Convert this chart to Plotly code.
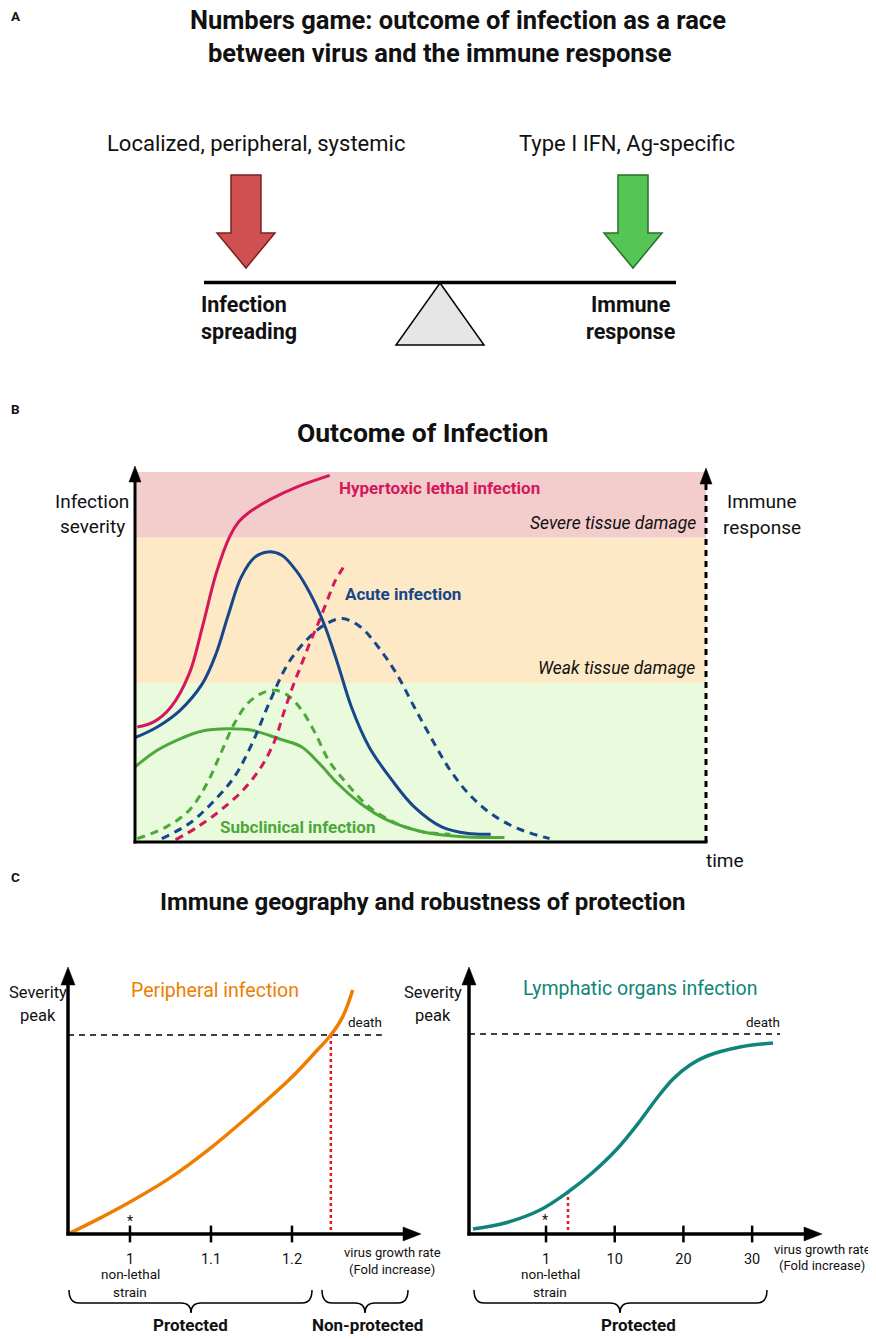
import plotly.graph_objects as go

# page is offset by the default 8px body margin; figure fills the rest
OFF = 8
PW, PH = 876, 1339
W, H = PW - OFF, PH - OFF
FONT = "Roboto"

# ---------------- Panel B data (time 0-100, severity 0-100) ----------------
band_edges = [0, 43.0, 82.3, 100]
band_colors = ["#eafadc", "#fde9c6", "#f3cccc"]
band_labels = ["Weak tissue damage", "Severe tissue damage"]

hyper_t = [0.4, 3.2, 6.3, 9.5, 11.8, 14.2, 16.6, 18.2, 19.9, 23.7, 28.4, 34.1]
hyper_s = [31.1, 32.4, 36.5, 45.5, 58.1, 72.5, 82.6, 86.6, 89.0, 92.6, 96.0, 99.1]

acute_t = [0, 3.9, 7.9, 11.8, 14.2, 16.4, 18.6, 21.0, 23.3, 25.7, 28.2, 30.7, 33.1,
           35.5, 37.9, 41.0, 45.0, 48.9, 53.7, 58.4, 62.3]
acute_s = [28.2, 31.1, 35.6, 42.8, 50.9, 61.7, 71.6, 77.0, 78.4, 77.5, 73.4, 67.1, 59.0,
           48.2, 36.5, 25.7, 16.7, 9.5, 4.1, 2.3, 2.1]

subc_t = [0, 3.9, 7.9, 11.8, 16.2, 20.5, 25.2, 29.2, 32.3, 35.5, 39.5, 44.2, 50.5, 56.8, 64.7]
subc_s = [20.3, 24.8, 27.9, 30.0, 30.6, 30.2, 27.9, 25.7, 21.2, 15.8, 10.4, 5.9, 2.7, 1.5, 1.2]

subc_imm_t = [0.4, 5.5, 9.5, 12.6, 15.0, 17.4, 19.7, 22.1, 24.5, 26.8, 29.2, 31.6, 33.9,
              37.1, 41.0, 45.8, 50.5, 55.2]
subc_imm_s = [0.9, 4.1, 8.6, 15.8, 23.9, 32.0, 37.4, 40.1, 41.0, 39.6, 35.6, 29.3, 22.1,
              15.8, 9.5, 5.0, 2.7, 2.1]

acute_imm_t = [4.7, 9.5, 13.4, 17.4, 20.5, 23.7, 26.8, 30.0, 33.1, 36.3, 39.5, 42.6, 45.8,
               48.9, 52.1, 55.2, 58.4, 62.3, 67.1, 72.6]
acute_imm_s = [0.9, 5.0, 10.4, 17.6, 26.6, 38.3, 48.2, 54.5, 58.6, 60.4, 58.1, 52.7, 45.5,
               36.5, 27.5, 19.4, 13.1, 7.7, 3.6, 0.9]

hyper_imm_t = [7.1, 11.0, 15.0, 18.9, 22.1, 24.5, 26.0, 27.6, 29.2, 30.8, 32.3, 33.9, 35.1, 36.9]
hyper_imm_s = [0.6, 4.1, 8.6, 14.0, 20.3, 27.5, 34.7, 41.9, 48.2, 54.5, 59.9, 66.2, 70.7, 75.2]

# ---------------- Panel C data ----------------
periph_x = [0.926, 0.963, 1.000, 1.049, 1.101, 1.148, 1.200, 1.228, 1.248, 1.263, 1.275]
periph_y = [0.005, 0.080, 0.161, 0.281, 0.437, 0.598, 0.789, 0.910, 1.000, 1.095, 1.226]
periph_ticks = [1, 1.1, 1.2]
periph_ticktext = ["1", "1.1", "1.2"]
periph_threshold = 1.248

lymph_x = [-0.063, 0.403, 0.913, 1.320, 1.670, 2.033, 2.368, 2.616, 2.849, 3.096, 3.344, 3.824, 4.304]
lymph_y = [0.025, 0.055, 0.120, 0.210, 0.305, 0.425, 0.565, 0.680, 0.775, 0.845, 0.890, 0.935, 0.955]
lymph_ticks = [1, 2, 3, 4]
lymph_ticktext = ["1", "10", "20", "30"]
lymph_threshold = 1.320
lymph_threshold_y = 0.21

death_level = 1.0

# ---------------- colours ----------------
C_HYPER = "#d4185a"
C_ACUTE = "#17478a"
C_SUBC = "#4ca83a"
C_ORANGE = "#ef7d00"
C_TEAL = "#0f857a"


def X(p):
    return (p - OFF) / W


def Y(p):
    return 1 - (p - OFF) / H


def path(points):
    return "M " + " L ".join(f"{X(a):.5f},{Y(b):.5f}" for a, b in points) + " Z"


fig = go.Figure()

# ---------- Panel B traces ----------
def bline(t, s, color, dash=None):
    fig.add_trace(go.Scatter(
        x=t, y=s, mode="lines", xaxis="x", yaxis="y",
        line=dict(color=color, width=3, shape="spline", smoothing=1.0,
                  dash=dash if dash else "solid"),
        hoverinfo="skip", showlegend=False))

DASH = "8px,6px"
bline(subc_t, subc_s, C_SUBC)
bline(subc_imm_t, subc_imm_s, C_SUBC, DASH)
bline(acute_imm_t, acute_imm_s, C_ACUTE, DASH)
bline(hyper_imm_t, hyper_imm_s, C_HYPER, DASH)
bline(acute_t, acute_s, C_ACUTE)
bline(hyper_t, hyper_s, C_HYPER)

# ---------- Panel C traces ----------
fig.add_trace(go.Scatter(x=[0.9235, 1.311], y=[death_level, death_level], mode="lines",
                         xaxis="x2", yaxis="y2", line=dict(color="black", width=1.6, dash="6px,5px"),
                         hoverinfo="skip", showlegend=False))
fig.add_trace(go.Scatter(x=[periph_threshold, periph_threshold], y=[0.02, death_level], mode="lines",
                         xaxis="x2", yaxis="y2", line=dict(color="#e8141c", width=2.5, dash="dot"),
                         hoverinfo="skip", showlegend=False))
fig.add_trace(go.Scatter(x=periph_x, y=periph_y, mode="lines", xaxis="x2", yaxis="y2",
                         line=dict(color=C_ORANGE, width=3.5, shape="spline"),
                         hoverinfo="skip", showlegend=False))
fig.add_trace(go.Scatter(x=periph_ticks, y=[0] * len(periph_ticks), mode="markers",
                         xaxis="x2", yaxis="y2", cliponaxis=False,
                         marker=dict(symbol="line-ns", size=12, line=dict(color="black", width=2.5)),
                         hoverinfo="skip", showlegend=False))

fig.add_trace(go.Scatter(x=[-0.121, 4.406], y=[death_level, death_level], mode="lines",
                         xaxis="x3", yaxis="y3", line=dict(color="black", width=1.6, dash="6px,5px"),
                         hoverinfo="skip", showlegend=False))
fig.add_trace(go.Scatter(x=[lymph_threshold, lymph_threshold], y=[0.02, lymph_threshold_y], mode="lines",
                         xaxis="x3", yaxis="y3", line=dict(color="#e8141c", width=2.5, dash="dot"),
                         hoverinfo="skip", showlegend=False))
fig.add_trace(go.Scatter(x=lymph_x, y=lymph_y, mode="lines", xaxis="x3", yaxis="y3",
                         line=dict(color=C_TEAL, width=3.5, shape="spline"),
                         hoverinfo="skip", showlegend=False))
fig.add_trace(go.Scatter(x=lymph_ticks, y=[0] * len(lymph_ticks), mode="markers",
                         xaxis="x3", yaxis="y3", cliponaxis=False,
                         marker=dict(symbol="line-ns", size=12, line=dict(color="black", width=2.5)),
                         hoverinfo="skip", showlegend=False))

shapes = []
for i in range(3):
    shapes.append(dict(type="rect", xref="x", yref="y", x0=0, x1=100,
                       y0=band_edges[i], y1=band_edges[i + 1], fillcolor=band_colors[i],
                       line=dict(width=0), layer="below"))

# ---------- Panel A illustration ----------
def block_arrow(xc, fill, edge):
    pts = [(xc - 15, 175), (xc + 15, 175), (xc + 15, 233), (xc + 29, 233), (xc, 268),
           (xc - 29, 233), (xc - 15, 233)]
    shapes.append(dict(type="path", xref="paper", yref="paper", path=path(pts),
                       fillcolor=fill, line=dict(color=edge, width=1.5)))

block_arrow(246, "#cf5050", "#7a1f1f")
block_arrow(633, "#55c655", "#2a6e2a")
shapes.append(dict(type="path", xref="paper", yref="paper",
                   path=path([(440, 283), (484, 345), (396, 345)]),
                   fillcolor="#e6e6e6", line=dict(color="black", width=1.5)))
shapes.append(dict(type="line", xref="paper", yref="paper", x0=X(204), x1=X(676),
                   y0=Y(282.5), y1=Y(282.5), line=dict(color="black", width=3.5)))

# ---------- axes lines / arrows ----------
def line(x0, y0, x1, y1, w=3, dash="solid"):
    shapes.append(dict(type="line", xref="paper", yref="paper", x0=X(x0), y0=Y(y0),
                       x1=X(x1), y1=Y(y1), line=dict(color="black", width=w, dash=dash)))

def head(tip, direction, hw=7, hl=17):
    x, y = tip
    if direction == "up":
        pts = [(x, y), (x + hw, y + hl), (x - hw, y + hl)]
    else:
        pts = [(x, y), (x - hl, y - hw), (x - hl, y + hw)]
    shapes.append(dict(type="path", xref="paper", yref="paper", path=path(pts),
                       fillcolor="black", line=dict(color="black", width=0.5)))

# Panel B
line(135, 843.5, 135, 480, 3)
head((135, 466), "up", 6, 16)
line(133.5, 842, 707.5, 842, 3)
line(706, 842, 706, 484, 3, "6px,5px")
head((706, 468), "up", 6, 16)

# Panel C left
line(68, 1235.5, 68, 983, 3.5)
head((68, 967), "up", 7, 18)
line(66.5, 1234, 405, 1234, 3.5)
head((421, 1234), "right", 7, 18)
# Panel C right
line(469, 1235.5, 469, 983, 3.5)
head((469, 967), "up", 7, 18)
line(467.5, 1234, 806, 1234, 3.5)
head((822, 1234), "right", 7, 18)

# braces
def brace(x1, x2, xc, y0=1290, ym=1303, yt=1313, r=10):
    pts = [
        f"M {X(x1):.5f},{Y(y0):.5f}",
        f"Q {X(x1):.5f},{Y(ym):.5f} {X(x1 + r):.5f},{Y(ym):.5f}",
        f"L {X(xc - r):.5f},{Y(ym):.5f}",
        f"Q {X(xc):.5f},{Y(ym):.5f} {X(xc):.5f},{Y(yt):.5f}",
        f"Q {X(xc):.5f},{Y(ym):.5f} {X(xc + r):.5f},{Y(ym):.5f}",
        f"L {X(x2 - r):.5f},{Y(ym):.5f}",
        f"Q {X(x2):.5f},{Y(ym):.5f} {X(x2):.5f},{Y(y0):.5f}",
    ]
    shapes.append(dict(type="path", xref="paper", yref="paper", path=" ".join(pts),
                       line=dict(color="black", width=1.5)))

brace(69, 312, 191)
brace(322, 408, 365)
brace(474, 767, 620)

# ---------- text ----------
ann = []
def T(x, y, text, size, color="#111111", bold=False, italic=False, anchor="center"):
    t = text
    if bold:
        t = f"<b>{t}</b>"
    if italic:
        t = f"<i>{t}</i>"
    ann.append(dict(x=X(x), y=Y(y), xref="paper", yref="paper", text=t, showarrow=False,
                    xanchor=anchor, yanchor="middle",
                    font=dict(family=FONT, size=size, color=color)))

T(9, 16, "A", 13.5, bold=True, anchor="left")
T(458, 20, "Numbers game: outcome of infection as a race", 25.5, bold=True)
T(440, 53, "between virus and the immune response", 25.5, bold=True)
T(256, 143, "Localized, peripheral, systemic", 22)
T(627, 143, "Type I IFN, Ag-specific", 22)
T(199, 304, "Infection", 21.5, bold=True, anchor="left")
T(199, 331, "spreading", 21.5, bold=True, anchor="left")
T(631, 304, "Immune", 21.5, bold=True)
T(631, 331, "response", 21.5, bold=True)

T(9, 409, "B", 13.5, bold=True, anchor="left")
T(422, 432, "Outcome of Infection", 26.5, bold=True)
T(92, 502, "Infection", 19)
T(92, 526, "severity", 19)
T(762, 502, "Immune", 19)
T(762, 527, "response", 19)
T(725, 860, "time", 19)
T(337, 488, "Hypertoxic lethal infection", 17, C_HYPER, bold=True, anchor="left")
T(343, 594, "Acute infection", 17, C_ACUTE, bold=True, anchor="left")
T(218, 827, "Subclinical infection", 17, C_SUBC, bold=True, anchor="left")
T(698, 523, band_labels[1], 17.5, italic=True, anchor="right")
T(697, 668, band_labels[0], 17.5, italic=True, anchor="right")

T(9, 877, "C", 13.5, bold=True, anchor="left")
T(422, 902, "Immune geography and robustness of protection", 24, bold=True)
T(38, 993, "Severity", 16.5)
T(38, 1015, "peak", 16.5)
T(433, 993, "Severity", 16.5)
T(433, 1015, "peak", 16.5)
T(215, 990, "Peripheral infection", 19.5, C_ORANGE)
T(640, 988, "Lymphatic organs infection", 19.5, C_TEAL)
T(365, 1022, "death", 13.5)
T(763, 1022, "death", 13.5)
T(130, 1221, "*", 14)
T(545, 1220, "*", 14)
T(130, 1274, "non-lethal", 13.5)
T(130, 1292, "strain", 13.5)
T(550, 1274, "non-lethal", 13.5)
T(550, 1292, "strain", 13.5)
T(392, 1252, "virus growth rate", 13)
T(392, 1269, "(Fold increase)", 13)
T(822, 1249, "virus growth rate", 13)
T(822, 1265, "(Fold increase)", 13)
T(190, 1325, "Protected", 17, bold=True)
T(367, 1325, "Non-protected", 17, bold=True)
T(638, 1325, "Protected", 17, bold=True)

hidden = dict(showgrid=False, zeroline=False, showline=False, fixedrange=True)
tickfont = dict(size=14.5, family=FONT, color="#111")
fig.update_layout(
    width=W, height=H, margin=dict(l=0, r=0, t=0, b=0),
    paper_bgcolor="white", plot_bgcolor="rgba(0,0,0,0)",
    showlegend=False,
    font=dict(family=FONT, color="#111111"),
    xaxis=dict(domain=[X(135), X(706)], range=[0, 100], showticklabels=False, **hidden),
    yaxis=dict(domain=[Y(842), Y(472)], range=[0, 100], showticklabels=False, **hidden),
    xaxis2=dict(domain=[X(68), X(421)], range=[0.9235, 1.3593], tickvals=periph_ticks,
                ticktext=periph_ticktext, ticks="outside", ticklen=12,
                tickcolor="rgba(0,0,0,0)", tickfont=tickfont, anchor="y2", **hidden),
    yaxis2=dict(domain=[Y(1234), Y(968)], range=[0, 1.337], showticklabels=False,
                anchor="x2", **hidden),
    xaxis3=dict(domain=[X(469), X(822)], range=[-0.121, 5.017], tickvals=lymph_ticks,
                ticktext=lymph_ticktext, ticks="outside", ticklen=12,
                tickcolor="rgba(0,0,0,0)", tickfont=tickfont, anchor="y3", **hidden),
    yaxis3=dict(domain=[Y(1234), Y(968)], range=[0, 1.33], showticklabels=False,
                anchor="x3", **hidden),
    shapes=shapes,
    annotations=ann,
)

fig.write_html("out.html")
